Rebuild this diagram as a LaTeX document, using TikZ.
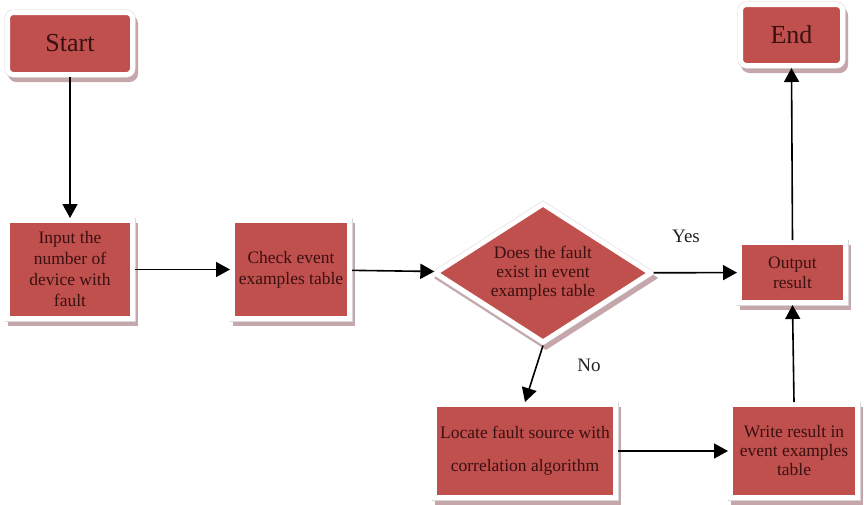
\documentclass[tikz,border=0pt]{standalone}
\usepackage{fontspec}
\setmainfont{Liberation Serif}
\usetikzlibrary{shapes.geometric,arrows.meta}
\definecolor{boxred}{HTML}{C0504D}
\definecolor{txtc}{HTML}{3A1010}
\definecolor{shadc}{HTML}{C4A6AB}
\definecolor{bordgray}{HTML}{D8D8D8}
\definecolor{lblc}{HTML}{222222}
\begin{document}
\begin{tikzpicture}[x=1pt,y=1pt,
  shaded/.style={fill=boxred, draw=white, line width=5pt, text=txtc, align=center, inner sep=0pt, outer sep=2.5pt,
     preaction={draw=shadc, fill=shadc, line width=5pt, transform canvas={shift={(3pt,-5pt)}}},
     preaction={draw=bordgray, line width=6pt}},
  box/.style={shaded, rectangle, font=\fontsize{17.5}{21}\selectfont},
  termbox/.style={shaded, rectangle, rounded corners=6pt, font=\fontsize{26}{30}\selectfont},
  decision/.style={shaded, diamond, aspect=1.6, font=\fontsize{17.5}{19}\selectfont},
  lbl/.style={text=lblc, font=\fontsize{19}{22}\selectfont, inner sep=0pt},
  arr/.style={draw=black, line width=1.6pt, -{Triangle[length=14pt,width=15pt]}}
]
\fill[white] (0,0) rectangle (864,-504);
\useasboundingbox (0,0) rectangle (864,-504);

\node[termbox, minimum width=125pt, minimum height=62pt] (start) at (70,-43.5) {Start};
\node[termbox, minimum width=102pt, minimum height=61pt] (end) at (791.5,-35) {End};
\node[box, minimum width=125pt, minimum height=98pt] (input) at (70,-269.5) {Input the\\number of\\device with\\fault};
\node[box, minimum width=117pt, minimum height=98pt] (check) at (291,-269.5) {Check event\\examples table};
\node[decision, minimum width=217pt, minimum height=140pt] (dec) at (543,-273) {Does the fault\\exist in event\\examples table};
\node[box, minimum width=106pt, minimum height=60pt, font=\fontsize{17.5}{20}\selectfont] (output) at (792.5,-272.5) {Output\\result};
\node[box, minimum width=181pt, minimum height=93pt] (locate) at (525,-451) {Locate fault source with\\[12pt]correlation algorithm};
\node[box, minimum width=127pt, minimum height=93pt, font=\fontsize{17.5}{19}\selectfont] (write) at (794,-451) {Write result in\\event examples\\table};

\node[lbl] (yes) at (686,-236) {Yes};
\node[lbl] (no) at (589,-365) {No};

\draw[arr] (start) -- (input);
\draw[arr] (input) -- (check);
\draw[arr] (check) -- (dec);
\draw[arr] (dec) -- (output);
\draw[arr] (output.north) -- (end.south);
\draw[arr] (dec.south) -- (locate.north);
\draw[arr] (locate) -- (write);
\draw[arr] (write.north) -- (output.south);
\end{tikzpicture}
\end{document}
